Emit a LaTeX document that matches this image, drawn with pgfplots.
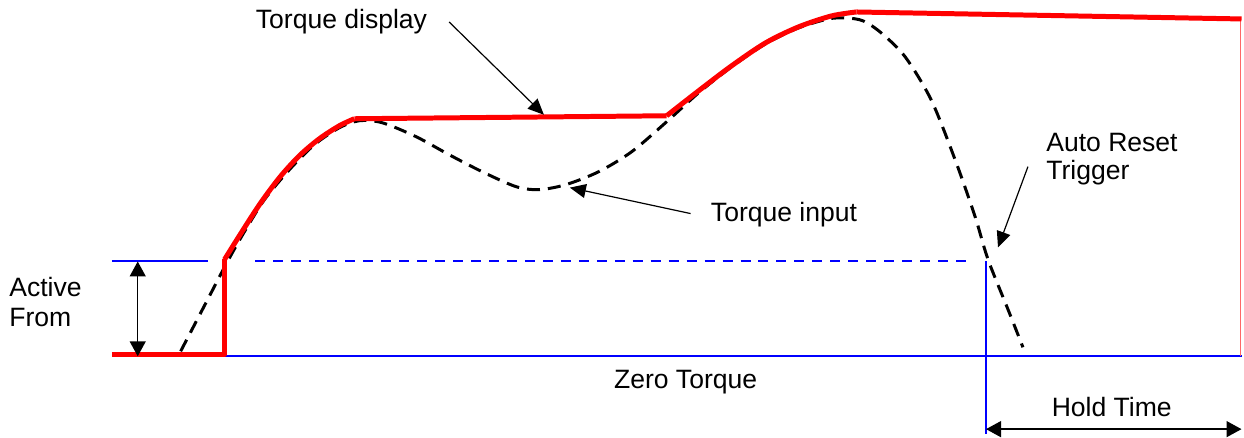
\documentclass[border=0pt]{standalone}
\usepackage{fontspec}
\setmainfont{Liberation Sans}
\usepackage{pgfplots}
\pgfplotsset{compat=1.18}
\usetikzlibrary{arrows.meta}
\definecolor{myred}{RGB}{255,0,0}
\definecolor{myblue}{RGB}{0,0,255}
\begin{document}
\begin{tikzpicture}[font=\fontsize{13.3}{16}\selectfont]
\begin{axis}[
  scale only axis, width=622pt, height=217.5pt,
  xmin=0, xmax=1244, ymin=0, ymax=435, y dir=reverse,
  hide axis, clip=false,
]
\path (axis cs:0,0) rectangle (axis cs:1244,435);
% blue lines
\addplot[draw=myblue, line width=1pt] coordinates {(112,357) (1244,357)};
\addplot[draw=myblue, line width=1pt] coordinates {(112,262) (208,262)};
\addplot[draw=myblue, line width=1pt, dash pattern=on 5pt off 4pt] coordinates {(256,262) (975,262)};
\addplot[draw=myblue, line width=1pt] coordinates {(988,262) (988,435)};
% thin red right edge
\addplot[draw=myred!60, line width=0.5pt] coordinates {(1243,19) (1243,357)};
% dashed torque input
\addplot[draw=black, line width=1.5pt, dash pattern=on 6.5pt off 4pt, smooth, tension=0.5] coordinates {
(181,352) (205,306) (228,262) (245,232) (265,200) (290,170) (315,145) (340,128) (360,121)
(383,123) (417,137) (450,155) (483,172) (517,187) (540,190) (567,185) (600,172) (633,152)
(668,122) (700,93) (733,67) (767,44) (800,28) (830,19) (848,18) (865,21) (883,33) (907,57)
(933,100) (957,160) (977,217) (990,260) (1010,310) (1025,348)};
% red torque display
\addplot[draw=myred, line width=2.5pt, line join=round] coordinates {(112,355) (225,355) (225,260)};
\addplot[draw=myred, line width=2.5pt, smooth, tension=0.5] coordinates {(225,260) (240,236) (260,205) (280,178) (300,156) (320,139) (340,126) (355,119)};
\addplot[draw=myred, line width=2.5pt] coordinates {(355,119) (668,116)};
\addplot[draw=myred, line width=2.5pt, smooth, tension=0.5] coordinates {(668,116) (700,91) (733,66) (767,43) (800,27) (833,16) (858,12)};
\addplot[draw=myred, line width=2.5pt] coordinates {(858,12) (1244,19)};
% arrows
\draw[black, line width=0.7pt, {Triangle[length=7.5pt,width=8pt]}-{Triangle[length=7.5pt,width=8pt]}] (axis cs:138,262) -- (axis cs:138,357);
\draw[black, line width=0.7pt, {Triangle[length=7.5pt,width=8pt]}-{Triangle[length=7.5pt,width=8pt]}] (axis cs:988,430) -- (axis cs:1244,430);
\draw[black, line width=0.6pt, -{Triangle[length=8pt,width=7pt]}] (axis cs:450,22) -- (axis cs:545,115);
\draw[black, line width=0.6pt, -{Triangle[length=8pt,width=7pt]}] (axis cs:692,214) -- (axis cs:571,188);
\draw[black, line width=0.6pt, -{Triangle[length=8pt,width=7pt]}] (axis cs:1030,167) -- (axis cs:1000,248);
% texts
\node[anchor=west, inner sep=0pt] at (axis cs:256,22) {Torque display};
\node[anchor=west, inner sep=0pt] at (axis cs:712,215) {Torque input};
\node[anchor=west, inner sep=0pt] at (axis cs:1048,143) {Auto Reset};
\node[anchor=west, inner sep=0pt] at (axis cs:1048,173) {Trigger};
\node[anchor=west, inner sep=0pt] at (axis cs:9,288) {Active};
\node[anchor=west, inner sep=0pt] at (axis cs:9,318) {From};
\node[inner sep=0pt] at (axis cs:687,383) {Zero Torque};
\node[inner sep=0pt] at (axis cs:1114,408) {Hold Time};
\end{axis}
\end{tikzpicture}
\end{document}
